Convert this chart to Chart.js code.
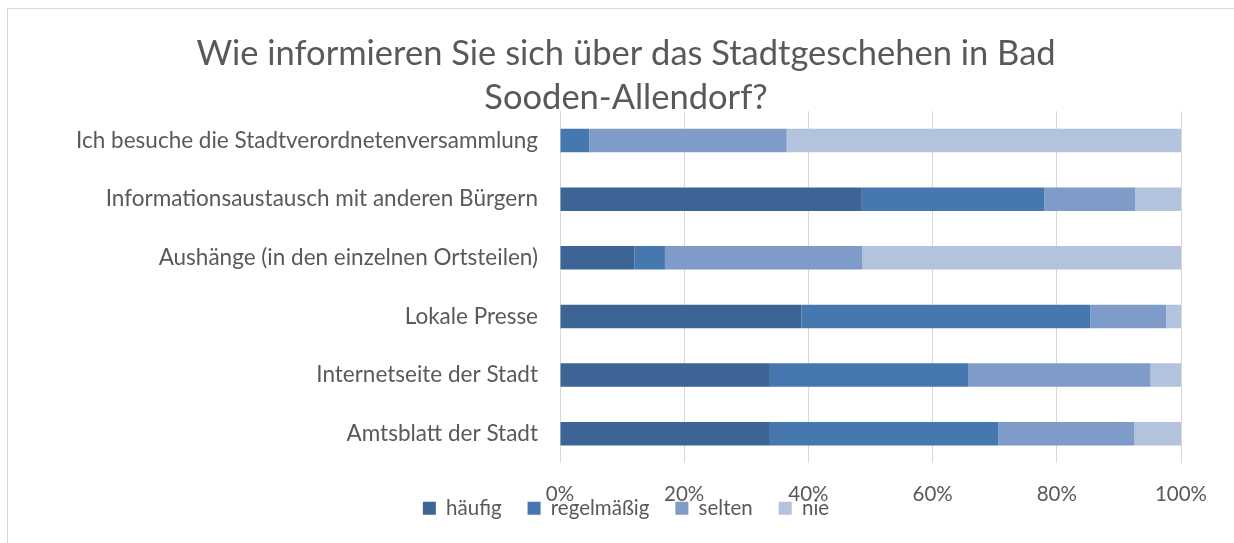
<!DOCTYPE html>
<html>
<head>
<meta charset="utf-8">
<script src="https://cdn.jsdelivr.net/npm/chart.js@4"></script>
<style>
  html, body { margin: 0; padding: 0; background: #fff; }
  #wrap { position: relative; width: 1234px; height: 543px; }
  #frame { position: absolute; left: 7px; top: 8px; right: -5px; bottom: -5px;
           border-left: 1.5px solid #d9d9d9; border-top: 1.5px solid #d9d9d9; }
  canvas { position: absolute; left: 0; top: 0; }
</style>
</head>
<body>
<div id="wrap">
  <div id="frame"></div>
  <canvas id="umfrageChart" width="1234" height="543"></canvas>
</div>
<script>
// Antworten je Informationsquelle (in %)
const kategorien = [
  'Ich besuche die Stadtverordnetenversammlung',
  'Informationsaustausch mit anderen Bürgern',
  'Aushänge (in den einzelnen Ortsteilen)',
  'Lokale Presse',
  'Internetseite der Stadt',
  'Amtsblatt der Stadt'
];
const haeufig      = [0,    48.6, 12.0, 38.9, 33.8, 33.8];
const regelmaessig = [4.7,  29.4, 4.9,  46.5, 32.0, 36.8];
const selten       = [31.8, 14.6, 31.8, 12.2, 29.3, 21.9];
const nie          = [63.5, 7.4,  51.3, 2.4,  4.9,  7.5];
const xTicks = ['0%', '20%', '40%', '60%', '80%', '100%'];

const schrift = 'Lato, "Open Sans", sans-serif';
const grau = '#595959';

// Legende wie im Original ein Stück nach oben ziehen (überlappt die Achsenbeschriftung)
const legendeHoch = {
  id: 'legendeHoch',
  afterLayout(chart) {
    const lg = chart.legend;
    const h = lg.bottom - lg.top;
    lg.top = 472;
    lg.bottom = lg.top + h;
  }
};

const ctx = document.getElementById('umfrageChart').getContext('2d');
new Chart(ctx, {
  type: 'bar',
  data: {
    labels: kategorien,
    datasets: [
      { label: 'häufig', data: haeufig, backgroundColor: '#3C6494' },
      { label: 'regelmäßig', data: regelmaessig, backgroundColor: '#4777AF' },
      { label: 'selten', data: selten, backgroundColor: '#7E9CC7' },
      { label: 'nie', data: nie, backgroundColor: '#B4C3DD' }
    ]
  },
  options: {
    indexAxis: 'y',
    responsive: false,
    animation: false,
    categoryPercentage: 1,
    barPercentage: 0.4,
    layout: { padding: { left: 71, right: 53, top: 31, bottom: -21.5 } },
    scales: {
      x: {
        stacked: true,
        min: 0,
        max: 100,
        border: { display: false },
        grid: { color: '#d9d9d9', lineWidth: 1, drawTicks: false },
        ticks: {
          stepSize: 20,
          padding: 19,
          color: grau,
          font: { family: schrift, size: 20.5 },
          callback: (v, i) => xTicks[i]
        },
        afterFit: scale => { scale.height = 45; }
      },
      y: {
        stacked: true,
        border: { display: false },
        grid: { display: false, drawTicks: false },
        ticks: {
          padding: 22,
          color: grau,
          font: { family: schrift, size: 22.5 }
        },
        afterFit: scale => { scale.width = 489; }
      }
    },
    plugins: {
      title: {
        display: true,
        text: ['Wie informieren Sie sich über das Stadtgeschehen in Bad', 'Sooden-Allendorf?'],
        color: grau,
        font: { family: schrift, size: 34.5, weight: 'normal', lineHeight: 1.3 },
        padding: { top: 0, bottom: -9.5 }
      },
      legend: {
        position: 'bottom',
        labels: {
          color: grau,
          boxWidth: 13,
          boxHeight: 13,
          padding: 26,
          font: { family: schrift, size: 20.5 }
        }
      },
      tooltip: { enabled: false }
    }
  },
  plugins: [legendeHoch]
});
</script>
</body>
</html>
